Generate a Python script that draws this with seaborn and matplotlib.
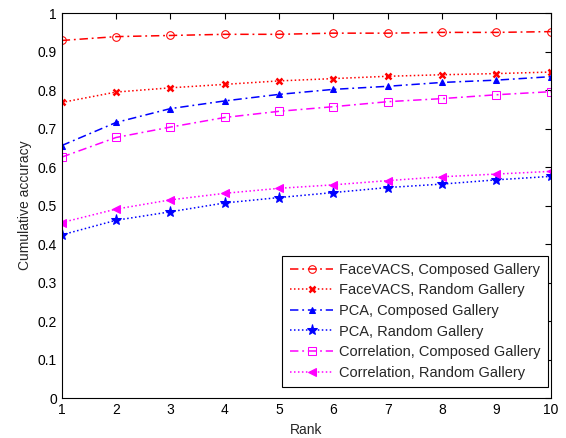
import numpy as np
import pandas as pd
import seaborn as sns
import matplotlib
matplotlib.use("Agg")
import matplotlib.pyplot as plt

ranks = [1, 2, 3, 4, 5, 6, 7, 8, 9, 10]

facevacs_composed = [0.929, 0.939, 0.942, 0.945, 0.945, 0.948, 0.948, 0.950, 0.950, 0.952]
facevacs_random = [0.768, 0.795, 0.806, 0.815, 0.824, 0.830, 0.836, 0.840, 0.843, 0.847]
pca_composed = [0.656, 0.716, 0.752, 0.772, 0.789, 0.802, 0.810, 0.820, 0.826, 0.835]
pca_random = [0.424, 0.462, 0.484, 0.507, 0.521, 0.534, 0.547, 0.556, 0.567, 0.576]
corr_composed = [0.626, 0.677, 0.704, 0.729, 0.745, 0.757, 0.770, 0.778, 0.788, 0.796]
corr_random = [0.456, 0.491, 0.515, 0.532, 0.545, 0.554, 0.565, 0.575, 0.582, 0.589]

labels = [
    "FaceVACS, Composed Gallery",
    "FaceVACS, Random Gallery",
    "PCA, Composed Gallery",
    "PCA, Random Gallery",
    "Correlation, Composed Gallery",
    "Correlation, Random Gallery",
]

sns.set_style("white")
plt.rcParams['font.family'] = ['Liberation Sans', 'DejaVu Sans']
plt.rcParams['font.size'] = 10

fig = plt.figure(figsize=(5.66, 4.38), dpi=100)
ax = fig.add_axes([0.109, 0.091, 0.864, 0.879])

dashdot = (0, (5.5, 2.5, 1.2, 2.5))
dotted = (0, (1, 1.6))
series = [facevacs_composed, facevacs_random, pca_composed, pca_random, corr_composed, corr_random]
styles = [
    dict(color="red", linestyle=dashdot, marker="o", markerfacecolor="none", markersize=5.5),
    dict(color="red", linestyle=dotted, marker="x", markersize=5, markeredgewidth=1.8),
    dict(color="blue", linestyle=dashdot, marker="^", markersize=5),
    dict(color="blue", linestyle=dotted, marker="*", markersize=8),
    dict(color="magenta", linestyle=dashdot, marker="s", markerfacecolor="none", markersize=5.5),
    dict(color="magenta", linestyle=dotted, marker="<", markersize=5.5),
]

for vals, lab, st in zip(series, labels, styles):
    sns.lineplot(x=ranks, y=vals, ax=ax, label=lab, linewidth=1.1,
                 markeredgecolor=st["color"], **st)

ax.set_xlim(1, 10)
ax.set_ylim(0, 1)
ax.set_xticks(ranks)
ax.set_yticks(np.arange(0, 1.01, 0.1))
ax.set_yticklabels(["0", "0.1", "0.2", "0.3", "0.4", "0.5", "0.6", "0.7", "0.8", "0.9", "1"])
ax.tick_params(direction="in", top=True, right=True, length=4, width=0.8, colors="black", labelsize=10)
for s in ax.spines.values():
    s.set_color("black")
    s.set_linewidth(0.8)
ax.set_xlabel("Rank", fontsize=10)
ax.set_ylabel("Cumulative accuracy", fontsize=10)

leg = ax.legend(loc="lower right", bbox_to_anchor=(548 / 566, 1 - 387 / 438),
                bbox_transform=fig.transFigure, borderaxespad=0,
                fancybox=False, edgecolor="black", framealpha=1,
                handlelength=3.0, handletextpad=0.4, labelspacing=0.45,
                borderpad=0.5, fontsize=10.5)
leg.get_frame().set_linewidth(0.8)

fig.savefig("out.png", dpi=100)
